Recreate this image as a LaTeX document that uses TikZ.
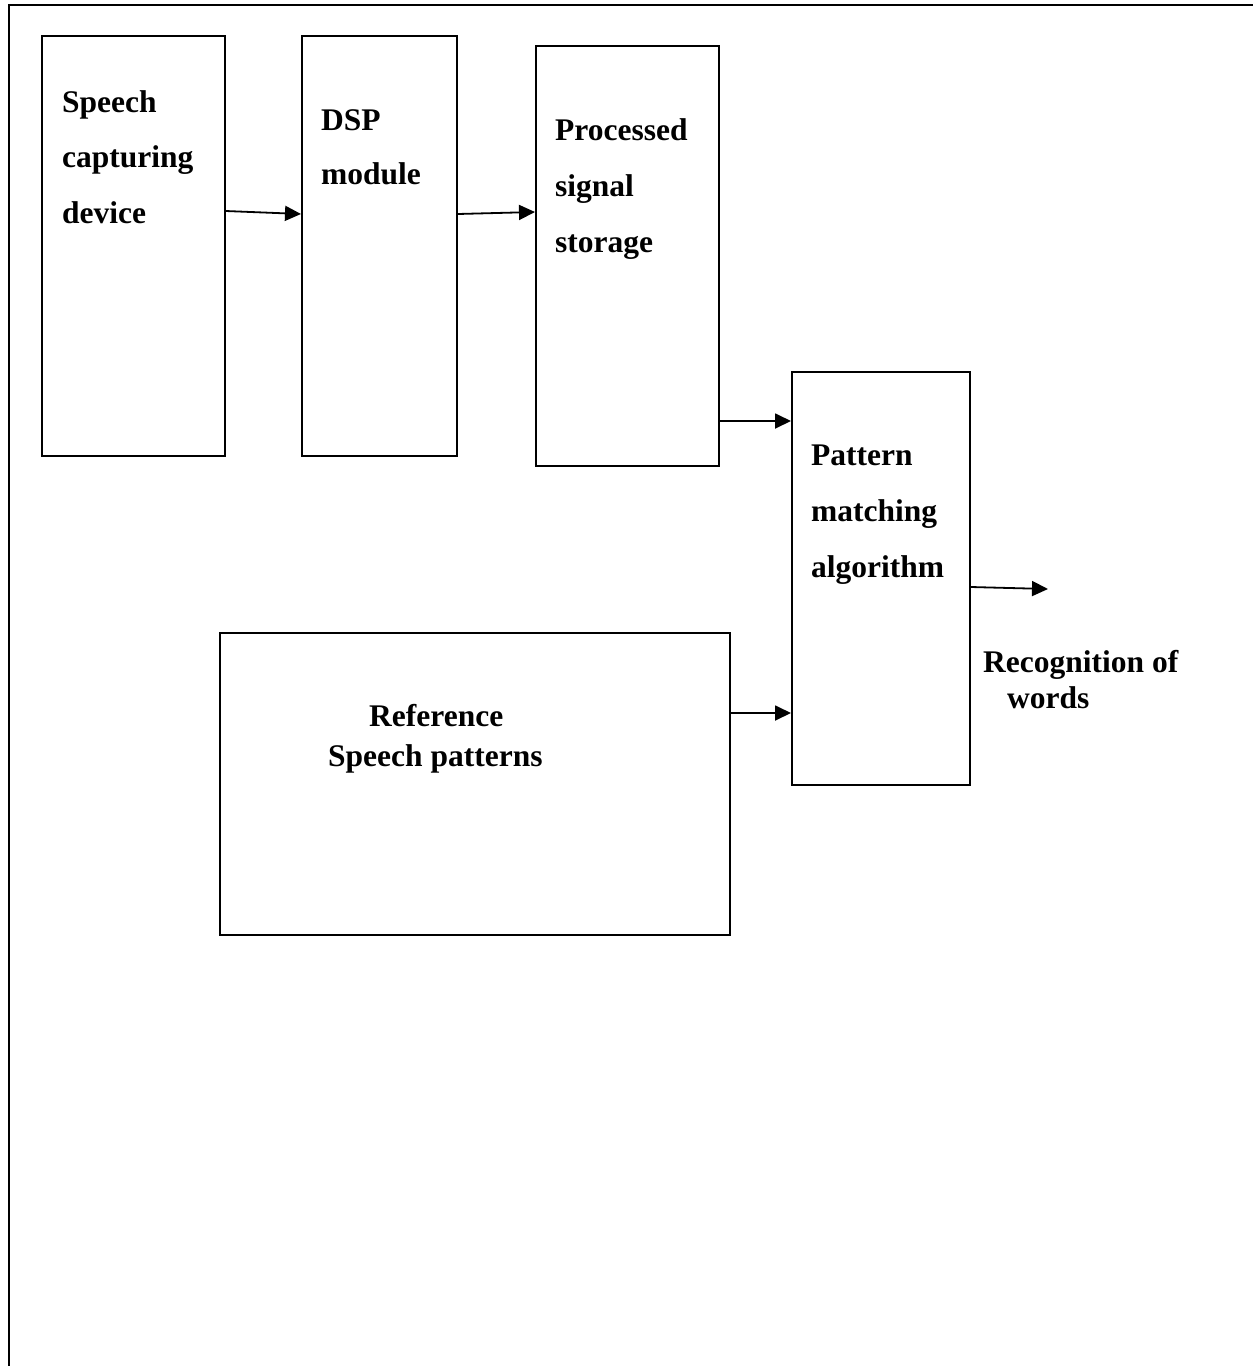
\documentclass[tikz,border=0pt]{standalone}
\usepackage{fontspec}
\setmainfont{Liberation Serif}
\usetikzlibrary{arrows.meta}
\begin{document}
\begin{tikzpicture}[x=1pt,y=-1pt,
  block/.style={draw,line width=1.8pt,inner sep=0pt,anchor=north west},
  lbl/.style={inner sep=0pt,anchor=base west,font=\bfseries\fontsize{31.5}{38}\selectfont},
  flow/.style={line width=1.8pt,-{Triangle[length=16pt,width=15pt]}}]
  \useasboundingbox (0,0) rectangle (1253,1366);
  % page frame (top and left edges visible)
  \draw[line width=2.5pt] (9,1400) -- (9,5) -- (1300,5);

  % blocks
  \node[block,minimum width=183pt,minimum height=420pt] (spd) at (41,35) {};
  \node[block,minimum width=155pt,minimum height=420pt] (dsp) at (301,35) {};
  \node[block,minimum width=183pt,minimum height=420pt] (pss) at (535,45) {};
  \node[block,minimum width=178pt,minimum height=413pt] (pma) at (791,371) {};
  \node[block,minimum width=510pt,minimum height=302pt] (ref) at (219,632) {};

  % labels
  \node[lbl] (spdA) at (62,112) {Speech};
  \node[lbl] (spdB) at (62,167) {capturing};
  \node[lbl] (spdC) at (62,223) {device};
  \node[lbl] (dspA) at (321,130) {DSP};
  \node[lbl] (dspB) at (321,184) {module};
  \node[lbl] (pssA) at (555,140) {Processed};
  \node[lbl] (pssB) at (555,196) {signal};
  \node[lbl] (pssC) at (555,252) {storage};
  \node[lbl] (pmaA) at (811,465) {Pattern};
  \node[lbl] (pmaB) at (811,521) {matching};
  \node[lbl] (pmaC) at (811,577) {algorithm};
  \node[lbl] (refA) at (369,726) {Reference};
  \node[lbl] (refB) at (328,766) {Speech patterns};
  \node[lbl] (outA) at (983,672) {Recognition of};
  \node[lbl] (outB) at (1007,708) {words};

  % connectors
  \coordinate (out) at (1048,589);
  \draw[flow] ([yshift=-176pt]spd.north east) -- ([yshift=-179pt]dsp.north west);
  \draw[flow] ([yshift=-179pt]dsp.north east) -- ([yshift=-167pt]pss.north west);
  \draw[flow] ([yshift=-376pt]pss.north east) -- ([yshift=-50pt]pma.north west);
  \draw[flow] ([yshift=-81pt]ref.north east) -- ([yshift=-342pt]pma.north west);
  \draw[flow] ([yshift=-216pt]pma.north east) -- (out);
\end{tikzpicture}
\end{document}
